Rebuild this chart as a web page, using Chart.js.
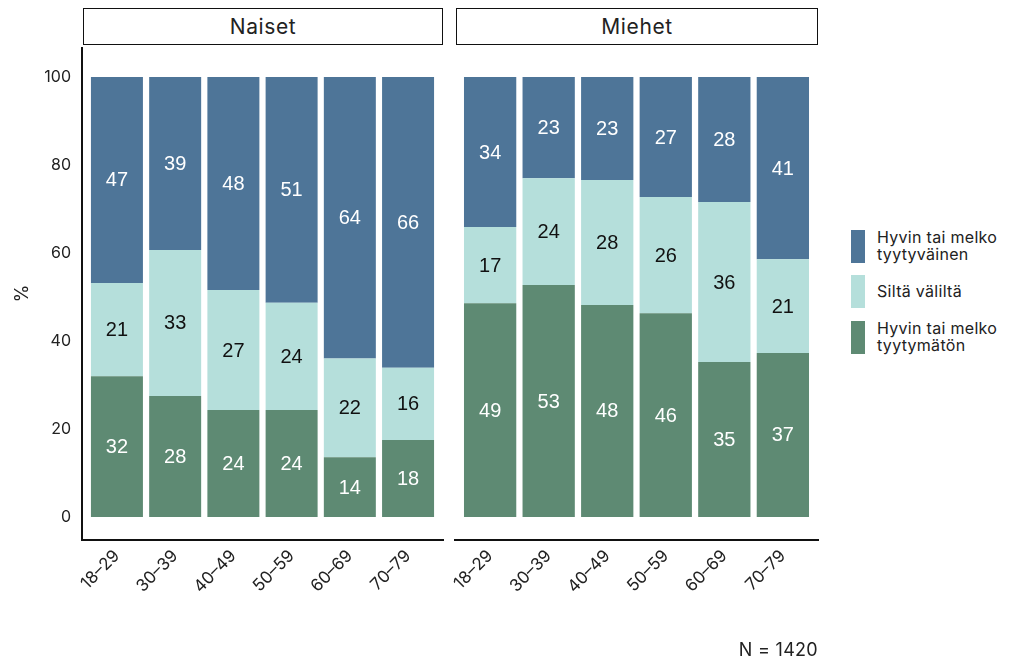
<!DOCTYPE html>
<html>
<head>
<meta charset="utf-8">
<script src="https://cdn.jsdelivr.net/npm/chart.js@4.4.1/dist/chart.umd.min.js"></script>
<style>
  html, body { margin:0; padding:0; background:#fff; }
  body { width:1024px; height:672px; position:relative; overflow:hidden; font-family: Inter, "Open Sans", sans-serif; color:#222; }
  .hdr { position:absolute; top:8px; height:35px; border:1.5px solid #111; box-sizing:content-box; text-align:center; line-height:35px; font-size:21px; letter-spacing:0.6px; color:#222; }
  canvas { position:absolute; }
  #legend { position:absolute; left:851px; top:229px; font-size:16px; line-height:17px; letter-spacing:0.3px; color:#222; }
  .li { display:flex; align-items:center; margin-bottom:12px; }
  .sw { width:14px; height:33px; margin-right:12px; flex:none; }
  .lt { white-space:pre-line; }
  #note { position:absolute; right:206px; top:639px; font-size:18px; letter-spacing:0.3px; color:#222; }
</style>
</head>
<body>
<div class="hdr" id="h0" style="left:83px;width:358px;"></div>
<div class="hdr" id="h1" style="left:456px;width:360px;"></div>
<canvas id="c0" width="445" height="625" style="left:0;top:47px;"></canvas>
<canvas id="c1" width="400" height="625" style="left:420px;top:47px;"></canvas>
<div id="legend"></div>
<div id="note"></div>
<script>
// ---- data ----
const panels = ["Naiset", "Miehet"];
const categories = ["18\u201329", "30\u201339", "40\u201349", "50\u201359", "60\u201369", "70\u201379"];
const seriesNames = ["Hyvin tai melko\ntyytymätön", "Siltä väliltä", "Hyvin tai melko\ntyytyväinen"];
// Naiset
const naisetTyytymaton = [32.0, 27.5, 24.3, 24.3, 13.6, 17.5];
const naisetValilta    = [21.2, 33.2, 27.3, 24.4, 22.4, 16.4];
const naisetTyytyvainen= [46.8, 39.3, 48.4, 51.3, 64.0, 66.1];
// Miehet
const miehetTyytymaton = [48.6, 52.7, 48.2, 46.3, 35.2, 37.3];
const miehetValilta    = [17.3, 24.3, 28.4, 26.4, 36.4, 21.3];
const miehetTyytyvainen= [34.1, 23.0, 23.4, 27.3, 28.4, 41.4];
const yTicks = [0, 20, 40, 60, 80, 100];
const yAxisTitle = "%";
const noteText = "N = 1420";

// ---- styles ----
const colors = ["#5e8a73", "#b5dfdb", "#4e7598"];
const labelColors = ["#ffffff", "#111111", "#ffffff"];
const tickFont = { family: "Inter, 'Open Sans', sans-serif", size: 16 };
const xTickFont = { family: "Inter, 'Open Sans', sans-serif", size: 17 };

document.getElementById("h0").textContent = panels[0];
document.getElementById("h1").textContent = panels[1];
document.getElementById("note").textContent = noteText;

const legend = document.getElementById("legend");
[2,1,0].forEach(i => {
  const li = document.createElement("div"); li.className = "li";
  const sw = document.createElement("div"); sw.className = "sw"; sw.style.background = colors[i];
  const lt = document.createElement("div"); lt.className = "lt"; lt.textContent = seriesNames[i];
  li.appendChild(sw); li.appendChild(lt); legend.appendChild(li);
});

const valueLabels = {
  id: "valueLabels",
  afterDatasetsDraw(chart) {
    const ctx = chart.ctx;
    ctx.save();
    ctx.font = "20px 'Liberation Sans', Arial, sans-serif";
    ctx.textAlign = "center";
    ctx.textBaseline = "middle";
    chart.data.datasets.forEach((ds, di) => {
      const meta = chart.getDatasetMeta(di);
      meta.data.forEach((bar, i) => {
        const v = ds.data[i].y;
        ctx.fillStyle = labelColors[di];
        ctx.fillText(String(Math.round(v)), bar.x, (bar.y + bar.base) / 2 + 1);
      });
    });
    ctx.restore();
  }
};

function zeroPad(s) { s.paddingLeft = 0; s.paddingRight = 0; s.paddingTop = 0; s.paddingBottom = 0; }

function makeChart(id, series, showY, padLeft) {
  const datasets = series.map((vals, si) => ({
    label: seriesNames[si],
    data: vals.map((v, i) => ({ x: i, y: v })),
    backgroundColor: colors[si],
    borderWidth: 0,
    barPercentage: 0.893,
    categoryPercentage: 1.0
  }));
  return new Chart(document.getElementById(id), {
    type: "bar",
    data: { datasets },
    plugins: [valueLabels],
    options: {
      responsive: false,
      animation: false,
      layout: { padding: { left: padLeft, right: 2, top: 0, bottom: 0 } },
      plugins: { legend: { display: false }, tooltip: { enabled: false } },
      scales: {
        x: {
          type: "linear",
          offset: false,
          stacked: true,
          min: -0.6, max: 5.6,
          grid: { display: false, drawTicks: false, offset: false },
          border: { display: true, color: "#111", width: 2 },
          afterBuildTicks: s => { s.ticks = categories.map((c, i) => ({ value: i })); },
          afterFit: s => { s.height = 132; zeroPad(s); },
          ticks: {
            minRotation: 45, maxRotation: 45, padding: 6,
            autoSkip: false,
            color: "#222", font: xTickFont,
            callback: v => categories[v]
          }
        },
        y: {
          display: showY,
          stacked: true,
          min: -5.23, max: 106.82,
          grid: { display: false, drawTicks: false },
          border: { display: true, color: "#111", width: 2 },
          afterBuildTicks: s => { s.ticks = yTicks.map(v => ({ value: v })); },
          afterFit: s => { s.width = showY ? 82 : 0; zeroPad(s); },
          title: { display: true, text: yAxisTitle, color: "#222", font: { family: "Inter, 'Open Sans', sans-serif", size: 18 }, padding: { top: 12 } },
          ticks: { color: "#222", font: tickFont, padding: 11 }
        }
      }
    }
  });
}

makeChart("c0", [naisetTyytymaton, naisetValilta, naisetTyytyvainen], true, 0);
makeChart("c1", [miehetTyytymaton, miehetValilta, miehetTyytyvainen], false, 35);
</script>
</body>
</html>
